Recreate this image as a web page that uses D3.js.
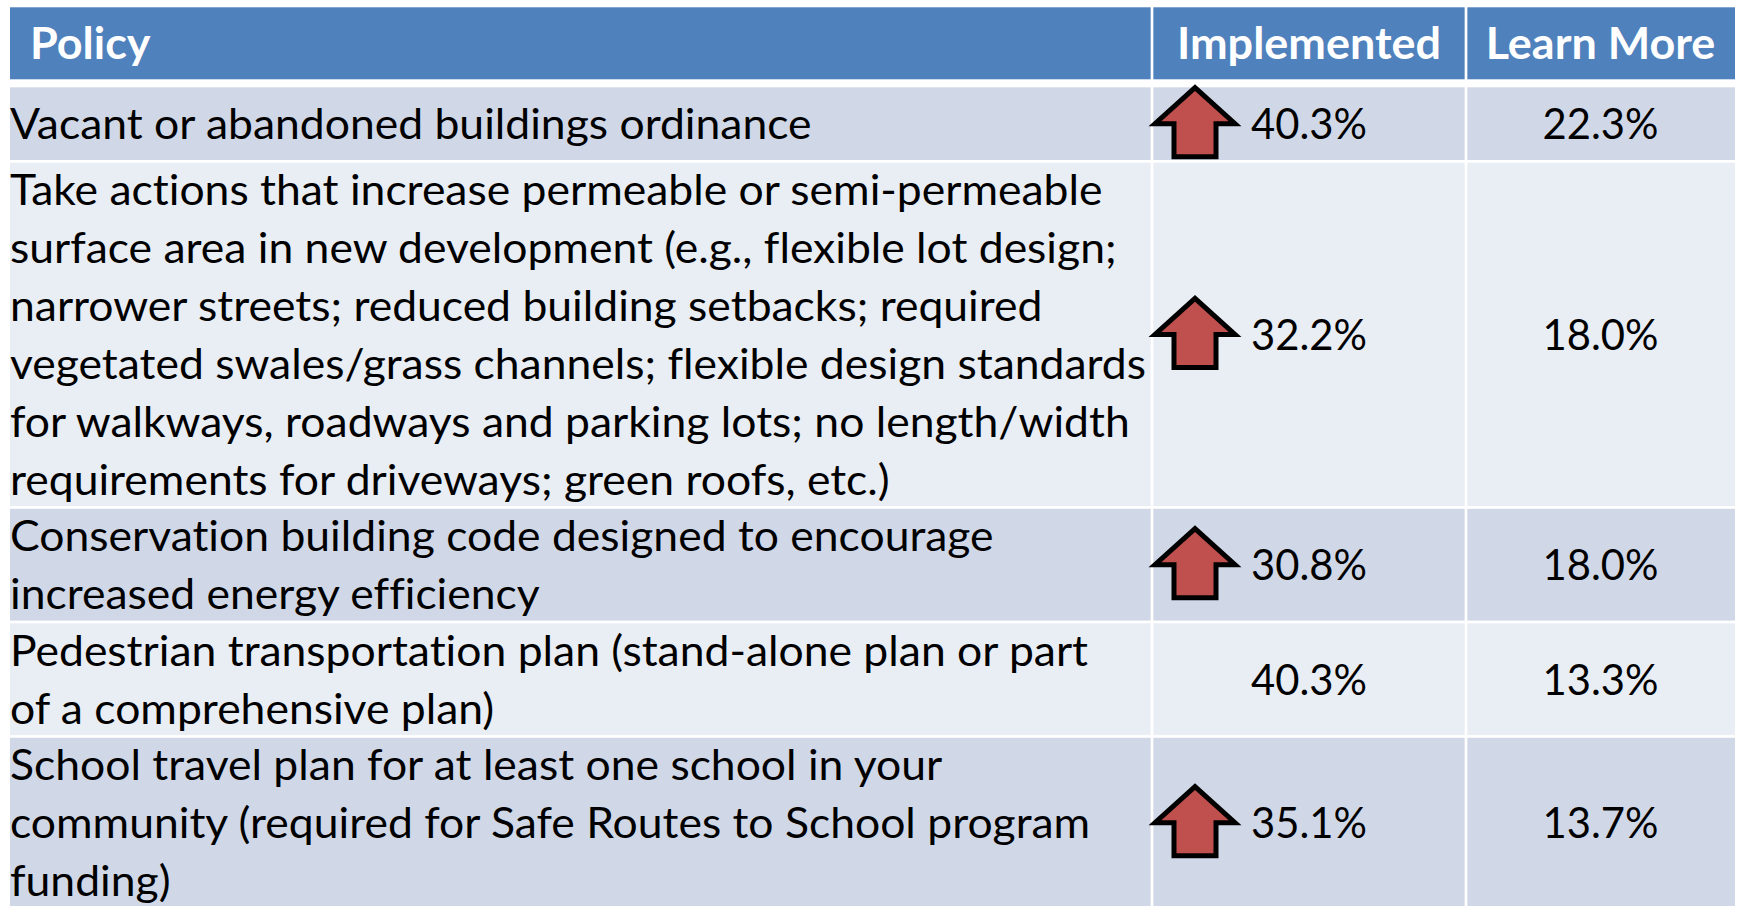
<!DOCTYPE html>
<html>
<head>
<meta charset="utf-8">
<script src="https://cdn.jsdelivr.net/npm/d3@7"></script>
<style>
  html, body { margin: 0; padding: 0; background: #ffffff; }
  svg { display: block; }
  text { font-variant-ligatures: none; font-feature-settings: "liga" 0, "dlig" 0; }
</style>
</head>
<body>
<svg id="chart" width="1741" height="906"></svg>
<script>
// ---------------- data ----------------
const headers = ["Policy", "Implemented", "Learn More"];
const policies = [
  ["Vacant or abandoned buildings ordinance"],
  ["Take actions that increase permeable or semi-permeable",
   "surface area in new development (e.g., flexible lot design;",
   "narrower streets; reduced building setbacks; required",
   "vegetated swales/grass channels; flexible design standards",
   "for walkways, roadways and parking lots; no length/width",
   "requirements for driveways; green roofs, etc.)"],
  ["Conservation building code designed to encourage",
   "increased energy efficiency"],
  ["Pedestrian transportation plan (stand-alone plan or part",
   "of a comprehensive plan)"],
  ["School travel plan for at least one school in your",
   "community (required for Safe Routes to School program",
   "funding)"]
];
const implemented = [40.3, 32.2, 30.8, 40.3, 35.1];
const learnMore   = [22.3, 18.0, 18.0, 13.3, 13.7];
const increased   = [true, true, true, false, true];

// ---------------- layout ----------------
const svg = d3.select("#chart");
const FONT = "Lato, 'Open Sans', 'DejaVu Sans', sans-serif";
const fontSize = 42;
const lineH = 57.9;
const gap = 2.7;
const colEdges = [10, 1152, 1466, 1735];
const headerTop = 7.3, headerBottom = 79.3, bodyTop = 87.3;

const rowHeights = policies.map(l => Math.max(72.7, l.length * lineH - 4));
const rowTops = [];
rowHeights.reduce((y, h) => { rowTops.push(y); return y + h + gap; }, bodyTop);

const cellX0 = i => i === 0 ? colEdges[0] : colEdges[i] + gap / 2;
const cellX1 = i => i === 2 ? colEdges[3] : colEdges[i + 1] - gap / 2;
const colCenter = i => (colEdges[i] + colEdges[i + 1]) / 2;

const fmt = v => d3.format(".1f")(v) + "%";
const rowColor = d3.scaleOrdinal().domain([0, 1]).range(["#D0D8E8", "#E9EDF4"]);

function squeeze(sel, k) {
  sel.each(function () {
    const w = this.getComputedTextLength();
    d3.select(this).attr("textLength", w * k).attr("lengthAdjust", "spacingAndGlyphs");
  });
}

// header
const gh = svg.append("g");
headers.forEach((h, i) => {
  gh.append("rect")
    .attr("x", cellX0(i)).attr("y", headerTop)
    .attr("width", cellX1(i) - cellX0(i)).attr("height", headerBottom - headerTop)
    .attr("fill", "#4F81BD");
});
const headerTexts = gh.selectAll("text.h").data(headers).join("text")
  .attr("class", "h")
  .attr("x", (d, i) => i === 0 ? 30 : colCenter(i))
  .attr("y", (headerTop + headerBottom) / 2 + 16)
  .attr("text-anchor", (d, i) => i === 0 ? "start" : "middle")
  .attr("font-family", FONT).attr("font-weight", "bold")
  .attr("font-size", 43).attr("fill", "#ffffff")
  .text(d => d);
const hRef = headerTexts.filter(d => d === "Implemented").node().getComputedTextLength();
squeeze(headerTexts, 264 / hRef);

// body rows
const gb = svg.append("g");
const rows = gb.selectAll("g.row").data(policies).join("g").attr("class", "row");

rows.each(function (lines, r) {
  const g = d3.select(this);
  const top = rowTops[r], h = rowHeights[r], cy = top + h / 2;
  [0, 1, 2].forEach(i => {
    g.append("rect")
      .attr("x", cellX0(i)).attr("y", top)
      .attr("width", cellX1(i) - cellX0(i)).attr("height", h)
      .attr("fill", rowColor(r % 2));
  });
  const firstBase = cy - (lines.length - 1) / 2 * lineH + 15.5;
  g.selectAll("text.p").data(lines).join("text")
    .attr("class", "p")
    .attr("x", 10)
    .attr("y", (d, j) => firstBase + j * lineH)
    .attr("font-family", FONT).attr("font-size", fontSize).attr("fill", "#000")
    .text(d => d);

  if (increased[r]) {
    const ax = 1195;
    const pts = [[0, -36], [40, 0], [21, 0], [21, 33], [-21, 33], [-21, 0], [-40, 0]];
    g.append("path")
      .attr("d", d3.line()(pts.map(p => [ax + p[0], cy + p[1]])) + "Z")
      .attr("fill", "#C0504D").attr("stroke", "#000").attr("stroke-width", 5)
      .attr("stroke-linejoin", "miter");
  }
  g.append("text").attr("class", "v")
    .attr("x", colCenter(1)).attr("y", cy + 15.5)
    .attr("text-anchor", "middle")
    .attr("font-family", FONT).attr("font-size", fontSize).attr("fill", "#000")
    .text(fmt(implemented[r]));
  g.append("text").attr("class", "v")
    .attr("x", colCenter(2)).attr("y", cy + 15.5)
    .attr("text-anchor", "middle")
    .attr("font-family", FONT).attr("font-size", fontSize).attr("fill", "#000")
    .text(fmt(learnMore[r]));
});

// horizontal calibration for body text (Calibri-like proportions)
const refNode = gb.selectAll("text.p").filter(d => d === "vegetated swales/grass channels; flexible design standards").node();
squeeze(gb.selectAll("text.p"), 1136 / refNode.getComputedTextLength());
const vRef = gb.select("text.v").node().getComputedTextLength();
squeeze(gb.selectAll("text.v"), 116 / vRef);
</script>
</body>
</html>
